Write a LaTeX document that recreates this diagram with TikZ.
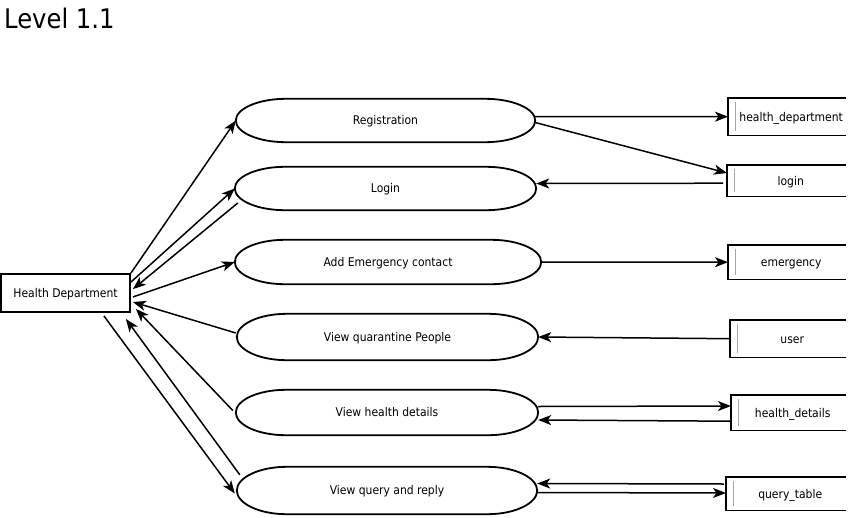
\documentclass[tikz,border=0pt]{standalone}
\usepackage{fontspec}
\setmainfont{DejaVu Sans Condensed}
\usetikzlibrary{arrows.meta,calc}
\tikzset{
  proc/.style={draw=none, inner sep=0pt, text height=8.8pt, text depth=0pt, font=\fontsize{12pt}{14pt}\selectfont},
  procline/.style={draw=black, line width=1.8pt},
  hdbox/.style={draw=black, line width=1.8pt, inner sep=0pt, text height=8.8pt, text depth=0pt, minimum width=129pt, minimum height=38pt, font=\fontsize{12pt}{14pt}\selectfont},
  storebox/.style={draw=none, inner sep=0pt, text height=8.8pt, text depth=0pt, anchor=north west, font=\fontsize{12pt}{14pt}\selectfont},
  storeline/.style={draw=black, line width=1.8pt},
  storeinner/.style={draw=gray!70, line width=0.8pt},
  flow/.style={draw=black, line width=1.5pt, -{Stealth[length=13pt,width=10pt,inset=3.5pt]}},
  titletext/.style={font=\fontsize{27pt}{30pt}\selectfont, inner sep=0pt, anchor=base west}
}
% name, x, y, w, h, text
\newcommand\procnode[6]{%
  \node[proc, minimum width=#4pt, minimum height=#5pt] (#1) at (#2,#3) {#6};
  \draw[procline] (#1.west)
    .. controls ([yshift=0.2762*#5pt]#1.west) and ([xshift=22.4pt]#1.north west) .. ([xshift=50pt]#1.north west)
    -- ([xshift=-50pt]#1.north east)
    .. controls ([xshift=-22.4pt]#1.north east) and ([yshift=0.2762*#5pt]#1.east) .. (#1.east)
    .. controls ([yshift=-0.2762*#5pt]#1.east) and ([xshift=-22.4pt]#1.south east) .. ([xshift=-50pt]#1.south east)
    -- ([xshift=50pt]#1.south west)
    .. controls ([xshift=22.4pt]#1.south west) and ([yshift=-0.2762*#5pt]#1.west) .. (#1.west) -- cycle;
}
% name, left x, top y, bottom y, text
\newcommand\storenode[5]{%
  \node[storebox, minimum width=\the\dimexpr 846pt-#2pt\relax, minimum height=\the\dimexpr #4pt-#3pt\relax] (#1) at (#2,#3) {\hspace*{8pt}#5};
  \draw[storeline] (#1.north east) -- (#1.north west) -- (#1.south west) -- (#1.south east);
  \draw[storeinner] ([xshift=7pt,yshift=-4pt]#1.north west) -- ([xshift=7pt,yshift=4pt]#1.south west);
}
\begin{document}
\begin{tikzpicture}[x=1pt,y=-1pt]
\useasboundingbox (0,0) rectangle (849,517);
\node[titletext] (title) at (4,28) {Level 1.1};

\node[hdbox] (hd) at (65.5,293) {Health Department};

\procnode{reg}{385.5}{120.5}{299}{43}{Registration}
\procnode{login}{385.5}{188.5}{301}{43}{Login}
\procnode{emer}{388}{262}{306}{44}{Add Emergency contact}
\procnode{quar}{387.5}{337}{301}{46}{View quarantine People}
\procnode{hdet}{387}{412.5}{302}{45}{View health details}
\procnode{query}{387}{490.5}{300}{47}{View query and reply}

\storenode{s1}{728}{98}{135}{health\_department}
\storenode{s2}{727}{165}{196}{login}
\storenode{s3}{728}{245}{279}{emergency}
\storenode{s4}{730}{320}{357}{user}
\storenode{s5}{731}{395}{430}{health\_details}
\storenode{s6}{726}{477}{510}{query\_table}

% left side
\draw[flow] (hd.north east) -- (reg.west);
\draw[flow] ([yshift=-9pt]hd.north east) -- (login.west);
\draw[flow] ([xshift=3pt,yshift=-14.5pt]login.west) -- ([xshift=2pt,yshift=-16pt]hd.north east);
\draw[flow] ([xshift=2pt,yshift=-4pt]hd.east) -- (emer.west);
\draw[flow] ([xshift=-1pt,yshift=4pt]quar.west) -- ([xshift=2pt,yshift=-9pt]hd.east);
\draw[flow] ([xshift=-3pt,yshift=2pt]hdet.west) -- ([xshift=5pt,yshift=4pt]hd.south east);
\draw[flow] ([xshift=3pt,yshift=-8pt]query.north west) -- ([xshift=-5pt,yshift=-6pt]hd.south east);
\draw[flow] ([xshift=-27pt,yshift=-3pt]hd.south east) -- ([xshift=-2pt,yshift=-3pt]query.west);

% right side
\draw[flow] ([yshift=4pt]reg.east) -- (s1.west);
\draw[flow] ([yshift=-2pt]reg.east) -- ([yshift=-8pt]s2.north west);
\draw[flow] ([xshift=-4pt,yshift=-2.5pt]s2.west) -- ([yshift=5pt]login.east);
\draw[flow] (emer.east) -- (s3.west);
\draw[flow] (s4.west) -- (quar.east);
\draw[flow] ([yshift=6pt]hdet.east) -- ([yshift=-11pt]s5.north west);
\draw[flow] ([yshift=-8.5pt]s5.west) -- ([yshift=-7.5pt]hdet.east);
\draw[flow] ([xshift=-2pt,yshift=-7pt]s6.north west) -- ([yshift=7pt]query.east);
\draw[flow] ([yshift=-2pt]query.east) -- ([yshift=-16pt]s6.north west);
\end{tikzpicture}
\end{document}
